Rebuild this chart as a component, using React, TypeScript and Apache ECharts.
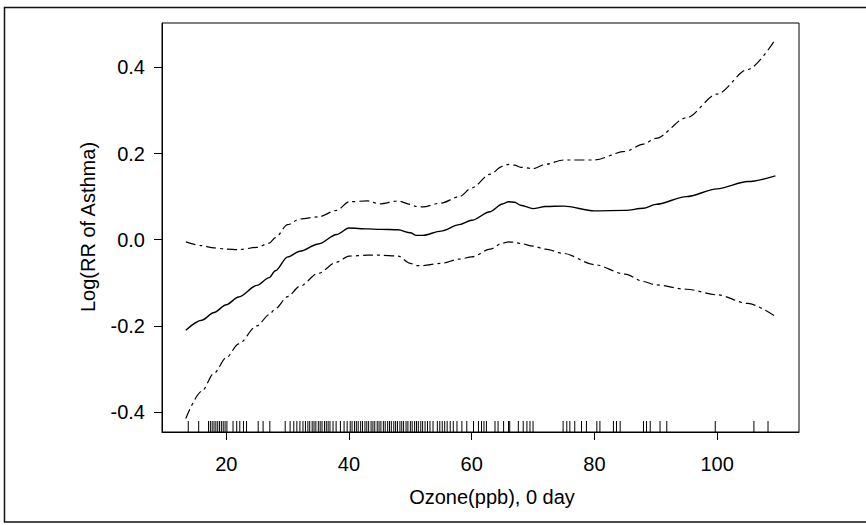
import React, { useEffect, useRef } from "react";
import * as echarts from "echarts";

// ---- data ----
const xTickValues = [20, 40, 60, 80, 100];
const yTickValues = [-0.4, -0.2, 0.0, 0.2, 0.4];

const ozoneGrid = [13.4, 16, 18, 20, 22, 25, 27, 28, 30, 32, 35, 38, 40, 43, 45, 48, 50, 51, 52, 55, 58, 60, 63, 65, 66, 67, 68, 70, 72, 75, 80, 85, 88, 90, 95, 100, 105, 109.5];
const fitValues = [-0.21, -0.187, -0.169, -0.151, -0.133, -0.106, -0.088, -0.072, -0.04, -0.027, -0.01, 0.012, 0.027, 0.025, 0.024, 0.023, 0.016, 0.01, 0.01, 0.02, 0.035, 0.045, 0.065, 0.083, 0.088, 0.087, 0.08, 0.072, 0.077, 0.078, 0.067, 0.068, 0.073, 0.082, 0.1, 0.118, 0.135, 0.148];
const upperValues = [-0.005, -0.014, -0.019, -0.022, -0.023, -0.018, -0.008, 0.005, 0.035, 0.048, 0.053, 0.068, 0.088, 0.09, 0.083, 0.09, 0.082, 0.077, 0.076, 0.085, 0.1, 0.12, 0.152, 0.17, 0.175, 0.173, 0.168, 0.165, 0.175, 0.185, 0.185, 0.205, 0.222, 0.235, 0.283, 0.338, 0.395, 0.465];
const lowerValues = [-0.415, -0.352, -0.31, -0.274, -0.242, -0.2, -0.174, -0.16, -0.132, -0.108, -0.078, -0.052, -0.038, -0.036, -0.036, -0.038, -0.055, -0.06, -0.06, -0.055, -0.045, -0.04, -0.022, -0.008, -0.005, -0.006, -0.009, -0.015, -0.022, -0.032, -0.058, -0.08, -0.097, -0.105, -0.115, -0.128, -0.148, -0.178];

const rugValues = [
  13.8, 15.5,
  17.1, 17.4, 17.7, 18.0, 18.3, 18.6, 18.9, 19.2, 19.5, 19.8, 20.1,
  21.1, 21.7, 22.2, 22.8, 23.3,
  25.2, 26.0, 27.1,
  29.6, 30.4, 31.0, 31.5, 32.0, 32.5, 32.9, 33.3, 33.6, 34.0, 34.3, 34.6, 35.0, 35.3, 35.6, 36.0, 36.3, 36.6, 36.9,
  37.4, 37.9, 38.6, 39.2, 39.7,
  40.2, 40.5, 40.9, 41.2, 41.5, 41.9, 42.2, 42.6, 42.9, 43.2, 43.6, 43.9, 44.2, 44.6, 44.9, 45.2, 45.6, 45.9, 46.3, 46.6, 46.9, 47.3, 47.6, 47.9, 48.3, 48.6, 48.9, 49.3, 49.6, 50.0, 50.3, 50.7, 51.0, 51.3, 51.7, 52.0, 52.4, 52.8,
  53.2, 53.7, 54.4, 54.8, 55.2, 55.6, 56.0, 56.5, 57.0, 57.6,
  58.4, 59.2, 60.3, 61.1, 61.6, 62.0, 62.4, 63.8, 64.3, 65.2, 66.0, 66.2, 67.6, 68.4, 69.0, 69.5, 70.0,
  74.9, 75.5, 76.0, 76.8, 77.9, 78.7, 80.4, 80.9, 83.1, 83.6, 84.2, 88.0, 88.5, 89.1, 90.7, 91.8, 99.7, 106.0, 108.3,
];

const xAxisTitle = "Ozone(ppb), 0 day";
const yAxisTitle = "Log(RR of Asthma)";

const X_MIN = 9.52;
const X_MAX = 113.35;
const Y_MIN = -0.4464;
const Y_MAX = 0.503;

const FONT = "'Liberation Sans', Arial, Helvetica, sans-serif";

export default function App() {
  const ref = useRef<HTMLDivElement>(null);

  useEffect(() => {
    if (!ref.current) return;
    const chart = echarts.init(ref.current, null, { renderer: "svg" });

    const pair = (ys: number[]) => ozoneGrid.map((x, i) => [x, ys[i]]);

    chart.setOption({
      animation: false,
      backgroundColor: "#ffffff",
      grid: {
        left: 162,
        top: 23,
        right: 67,
        bottom: 93,
        show: true,
        borderColor: "#000",
        borderWidth: 1,
        backgroundColor: "transparent",
      },
      xAxis: {
        type: "value",
        min: X_MIN,
        max: X_MAX,
        splitLine: { show: false },
        axisLine: { show: true, onZero: false, lineStyle: { color: "#000", width: 1 } },
        axisTick: { show: true, length: 8, inside: false, customValues: xTickValues, lineStyle: { color: "#000" } },
        axisLabel: {
          show: true,
          customValues: xTickValues,
          margin: 22,
          color: "#000",
          fontSize: 20,
          fontFamily: FONT,
          formatter: (v: number) => String(v),
        },
      },
      yAxis: {
        type: "value",
        min: Y_MIN,
        max: Y_MAX,
        splitLine: { show: false },
        axisLine: { show: true, onZero: false, lineStyle: { color: "#000", width: 1 } },
        axisTick: { show: true, length: 8, inside: false, customValues: yTickValues, lineStyle: { color: "#000" } },
        axisLabel: {
          show: true,
          customValues: yTickValues,
          margin: 17,
          color: "#000",
          fontSize: 20,
          fontFamily: FONT,
          formatter: (v: number) => v.toFixed(1),
        },
      },
      graphic: [
        {
          type: "polyline",
          shape: { points: [[866, 7.5], [4.5, 7.5], [4.5, 522], [866, 522]] },
          style: { stroke: "#111", lineWidth: 1.5, fill: "none" },
          silent: true,
        },
        {
          type: "text",
          x: 492,
          y: 497,
          style: {
            text: xAxisTitle,
            fill: "#000",
            fontSize: 20,
            fontFamily: FONT,
            textAlign: "center",
            textVerticalAlign: "middle",
          },
        },
        {
          type: "text",
          x: 88,
          y: 227,
          rotation: Math.PI / 2,
          style: {
            text: yAxisTitle,
            fill: "#000",
            fontSize: 20,
            fontFamily: FONT,
            textAlign: "center",
            textVerticalAlign: "middle",
          },
        },
      ],
      series: [
        {
          type: "line",
          data: pair(fitValues),
          showSymbol: false,
          smooth: 0.3,
          smoothMonotone: "x",
          lineStyle: { color: "#000", width: 1.4, type: "solid" },
        },
        {
          type: "line",
          data: pair(upperValues),
          showSymbol: false,
          smooth: 0.3,
          smoothMonotone: "x",
          lineStyle: { color: "#000", width: 1.2, type: [10, 4, 3, 4] },
        },
        {
          type: "line",
          data: pair(lowerValues),
          showSymbol: false,
          smooth: 0.3,
          smoothMonotone: "x",
          lineStyle: { color: "#000", width: 1.2, type: [10, 4, 3, 4] },
        },
        {
          type: "custom",
          clip: false,
          data: rugValues.map((v) => [v, Y_MIN]),
          renderItem: (_params: any, api: any) => {
            const p = api.coord([api.value(0), api.value(1)]);
            return {
              type: "line",
              shape: { x1: p[0], y1: p[1], x2: p[0], y2: p[1] - 11 },
              style: { stroke: "#000", lineWidth: 1 },
            };
          },
        },
      ],
    });

    return () => chart.dispose();
  }, []);

  return (
    <div
      ref={ref}
      style={{ position: "absolute", left: 0, top: 0, width: 866, height: 525 }}
    />
  );
}
